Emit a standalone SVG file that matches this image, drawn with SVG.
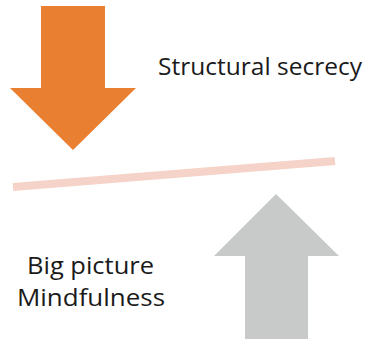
<svg xmlns="http://www.w3.org/2000/svg" width="371" height="339" viewBox="0 0 371 339">
<style>
.lbl{font-family:"Open Sans","Liberation Sans",sans-serif;font-size:24px;fill:#1a1a1a}
</style>
<rect width="371" height="339" fill="#ffffff"/>
<g id="arrow-down">
<polygon points="41,6 105,6 105,88 136,88 73,150 10,88 41,88" fill="#e97f31"/>
</g>
<g id="arrow-up">
<polygon points="276,194 339,256 308,256 308,339 245,339 245,256 214,256" fill="#c8c9c9"/>
</g>
<g id="connectors">
<line x1="13" y1="187" x2="335" y2="161" stroke="#f5d3c8" stroke-width="8"/>
</g>
<g id="label-structural">
<text class="lbl" x="158" y="75" textLength="204" lengthAdjust="spacingAndGlyphs">Structural secrecy</text>
</g>
<g id="label-bigpicture">
<text class="lbl" x="27" y="274" textLength="127" lengthAdjust="spacingAndGlyphs">Big picture</text>
<text class="lbl" x="17" y="306" textLength="148" lengthAdjust="spacingAndGlyphs">Mindfulness</text>
</g>
</svg>
